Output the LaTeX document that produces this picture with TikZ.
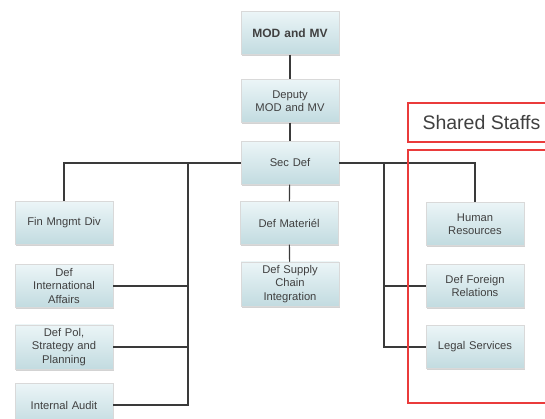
\documentclass[tikz,border=0pt]{standalone}
\usepackage{fontspec}
\setmainfont{Liberation Sans}
\usepackage{tikz}
\usetikzlibrary{shadows}
\definecolor{boxtop}{HTML}{EBF5F7}
\definecolor{boxbot}{HTML}{C2DBE0}
\definecolor{linegray}{HTML}{3A3A3A}
\definecolor{textgray}{HTML}{404040}
\definecolor{staffred}{HTML}{EA3B3B}
\tikzset{
	unit/.style={% Organisation units as shaded boxes
		rectangle,
		draw=gray!30,
		top color=boxtop, bottom color=boxbot,
		drop shadow={shadow xshift=1.2pt,shadow yshift=-1.5pt,opacity=.35},
		minimum width=98pt,
		minimum height=43pt,
		text width=90pt,
		align=center,
		text=textgray,
		font=\fontsize{11.2}{13.5}\selectfont
	},
	link/.style={draw=linegray, line width=1.2pt},
	staffs/.style={draw=staffred, line width=1.4pt}
}

\begin{document}
\begin{tikzpicture}[x=1pt,y=-1pt]
	\useasboundingbox (0,0) rectangle (545,419);
	\clip (0,0) rectangle (545,419);
	% spine
	\node [unit, font=\fontsize{12}{13.5}\selectfont\bfseries] (mod) at (290,33) {MOD and MV};
	\node [unit] (dep) at (290,101) {Deputy\\MOD and MV};
	\node [unit] (sec) at (290,163) {Sec Def};
	\node [unit] (mat) at (289,223) {Def Materiél};
	\node [unit] (dsci) at (290,284) {Def Supply\\Chain\\Integration};
	% left column
	\node [unit] (fin) at (64,223) {Fin Mngmt Div};
	\node [unit] (intl) at (64,286) {Def\\International\\Affairs};
	\node [unit] (pol) at (64,347) {Def Pol,\\Strategy and\\Planning};
	\node [unit] (audit) at (64,405) {Internal Audit};
	% shared staffs
	\node [unit] (hr) at (475,224) {Human\\Resources};
	\node [unit] (rel) at (475,286) {Def Foreign\\Relations};
	\node [unit] (legal) at (475,347) {Legal Services};
	\coordinate (lbus) at (188,163);
	\coordinate (rbus) at (384,163);
	\draw [link] (mod) -- (dep);
	\draw [link] (dep) -- (sec);
	\draw [link] (sec) -- (mat);
	\draw [link] (mat) -- (dsci);
	\draw [link] (sec.west) -| (fin);
	\draw [link] (lbus) |- (audit);
	\draw [link] (intl.east) -- (intl.east -| lbus);
	\draw [link] (pol.east) -- (pol.east -| lbus);
	\draw [link] (sec.east) -| (hr);
	\draw [link] (rbus) |- (legal);
	\draw [link] (rel.west) -- (rel.west -| rbus);
	% red frames
	\draw [staffs] (408,103) rectangle (560,142);
	\node [anchor=west, text=textgray, font=\fontsize{19.5}{21}\selectfont] (title) at (419,123) {Shared Staffs};
	\draw [staffs] (408,150) rectangle (560,403);
\end{tikzpicture}
\end{document}
